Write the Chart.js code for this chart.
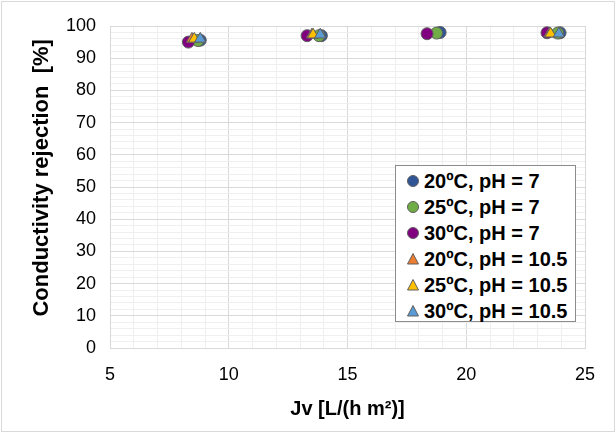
<!DOCTYPE html>
<html>
<head>
<meta charset="utf-8">
<script src="https://cdn.jsdelivr.net/npm/chart.js@4/dist/chart.umd.min.js"></script>
<style>
  html, body { margin: 0; padding: 0; background: #fff; }
  #wrap { position: relative; width: 616px; height: 433px; }
  #frame { position: absolute; left: 1px; top: 1px; width: 612px; height: 429px; border: 1px solid #d9d9d9; pointer-events: none; }
  #legend { position: absolute; left: 395px; top: 165px; width: 181px; height: 157px; border: 1px solid #8c8c8c; background: #fff;
            font: bold 20px 'Liberation Sans', Arial, sans-serif; color: #000; box-sizing: border-box; padding-top: 2px; }
  #legend .row { height: 26px; line-height: 26px; white-space: nowrap; }
  #legend svg { vertical-align: middle; margin: 0 4px 3px 10px; }
</style>
</head>
<body>
<div id="wrap">
  <canvas id="chart" width="616" height="433"></canvas>
  <div id="frame"></div>
  <div id="legend"></div>
</div>
<script>
// Values
var seriesNames = ['20ºC, pH = 7', '25ºC, pH = 7', '30ºC, pH = 7',
                   '20ºC, pH = 10.5', '25ºC, pH = 10.5', '30ºC, pH = 10.5'];

var jv20pH7 = [8.8, 13.9, 18.9, 23.95];
var rej20pH7 = [95.6, 97.0, 98.0, 97.9];
var jv25pH7 = [8.7, 13.8, 18.75, 23.85];
var rej25pH7 = [95.5, 97.0, 97.8, 97.8];
var jv30pH7 = [8.3, 13.3, 18.35, 23.4];
var rej30pH7 = [95.0, 97.0, 97.6, 97.9];

var jv20pH105 = [8.45, 13.5, 23.5];
var rej20pH105 = [96.0, 97.3, 97.6];
var jv25pH105 = [8.55, 13.55, 23.55];
var rej25pH105 = [96.0, 97.3, 97.6];
var jv30pH105 = [8.8, 13.85, 23.9];
var rej30pH105 = [96.0, 97.3, 97.6];

var xTicks = [5, 10, 15, 20, 25];
var yTicks = [0, 10, 20, 30, 40, 50, 60, 70, 80, 90, 100];

var colors = ['#2F5597', '#70AD47', '#800080', '#ED7D31', '#FFC000', '#5B9BD5'];
var shapes = ['circle', 'circle', 'circle', 'triangle', 'triangle', 'triangle'];

function pts(xs, ys) {
    var out = [];
    for (var i = 0; i < xs.length; i++) {
        out.push({x: xs[i], y: ys[i]});
    }
    return out;
}

var allX = [jv20pH7, jv25pH7, jv30pH7, jv20pH105, jv25pH105, jv30pH105];
var allY = [rej20pH7, rej25pH7, rej30pH7, rej20pH105, rej25pH105, rej30pH105];

var datasets = [];
for (var k = 0; k < seriesNames.length; k++) {
    datasets.push({
        label: seriesNames[k],
        data: pts(allX[k], allY[k]),
        pointStyle: shapes[k],
        pointRadius: shapes[k] === 'triangle' ? 6.5 : 6,
        backgroundColor: colors[k],
        borderColor: '#5f5f5f',
        borderWidth: 1,
        order: seriesNames.length - k
    });
}

var tickFont = {family: "'Liberation Sans', Arial, sans-serif", size: 18};
var titleFamily = "'Liberation Sans', Arial, sans-serif";

function gridColor(ctx) {
    if (!ctx.tick) return '#eeeeee';
    return ctx.tick.value % 5 === 0 ? '#d9d9d9' : '#efefef';
}
function gridColorY(ctx) {
    if (!ctx.tick) return '#eeeeee';
    return ctx.tick.value % 10 === 0 ? '#d9d9d9' : '#efefef';
}

new Chart(document.getElementById('chart'), {
    type: 'scatter',
    data: {datasets: datasets},
    options: {
        responsive: false,
        animation: false,
        layout: {padding: {left: 0, top: 26, right: 31, bottom: 0}},
        plugins: {legend: {display: false}, tooltip: {enabled: false}},
        scales: {
            x: {
                min: xTicks[0], max: xTicks[xTicks.length - 1],
                ticks: {
                    stepSize: 1, autoSkip: false, maxRotation: 0, padding: 16,
                    color: '#000', font: tickFont,
                    callback: function(v) { return xTicks.indexOf(v) >= 0 ? String(v) : ''; }
                },
                grid: {color: gridColor, drawTicks: false, lineWidth: 1},
                border: {color: '#d9d9d9'},
                title: {display: true, text: 'Jv [L/(h m²)]', color: '#000',
                        font: {family: titleFamily, size: 20, weight: 'bold'}, padding: {bottom: 12}},
                afterFit: function(s) { s.height = 85; }
            },
            y: {
                min: yTicks[0], max: yTicks[yTicks.length - 1],
                ticks: {
                    stepSize: 2, autoSkip: false, padding: 14,
                    color: '#000', font: tickFont,
                    callback: function(v) { return yTicks.indexOf(v) >= 0 ? String(v) : ''; }
                },
                grid: {color: gridColorY, drawTicks: false, lineWidth: 1},
                border: {color: '#d9d9d9'},
                title: {display: true, text: '   Conductivity rejection  [%]', color: '#000',
                        font: {family: titleFamily, size: 22, weight: 'bold'}, padding: {top: 29}},
                afterFit: function(s) { s.width = 110; }
            }
        }
    }
});

// Legend box drawn as HTML over the plot area
var legendEl = document.getElementById('legend');
for (var m = 0; m < seriesNames.length; m++) {
    var row = document.createElement('div');
    row.className = 'row';
    var mark;
    if (shapes[m] === 'circle') {
        mark = '<circle cx="7" cy="7" r="5.5" fill="' + colors[m] + '" stroke="#5f5f5f" stroke-width="1"/>';
    } else {
        mark = '<polygon points="7,1.5 12.5,12 1.5,12" fill="' + colors[m] + '" stroke="#5f5f5f" stroke-width="1"/>';
    }
    row.innerHTML = '<svg width="14" height="14">' + mark + '</svg>';
    row.appendChild(document.createTextNode(seriesNames[m]));
    legendEl.appendChild(row);
}
</script>
</body>
</html>
